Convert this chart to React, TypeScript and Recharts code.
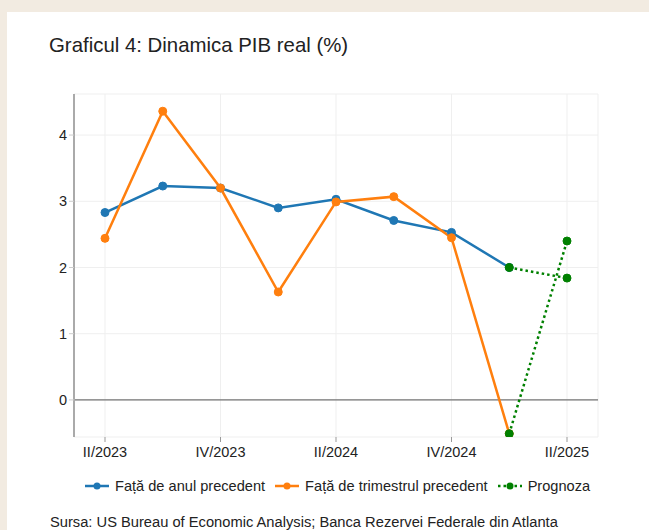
import React from 'react';
import { LineChart, Line, XAxis, YAxis, CartesianGrid, ReferenceLine } from 'recharts';

const quarters = ['II/2023', 'III/2023', 'IV/2023', 'I/2024', 'II/2024', 'III/2024', 'IV/2024', 'I/2025', 'II/2025'];
const yoy = [2.83, 3.23, 3.2, 2.9, 3.03, 2.71, 2.53, 2.0, null];
const qoq = [2.44, 4.36, 3.2, 1.63, 2.99, 3.07, 2.45, -0.51, null];
const forecastYoy = [null, null, null, null, null, null, null, 2.0, 1.84];
const forecastQoq = [null, null, null, null, null, null, null, -0.51, 2.4];
const xTicks = ['II/2023', 'IV/2023', 'II/2024', 'IV/2024', 'II/2025'];
const yTicks = [0, 1, 2, 3, 4];

const BLUE = '#1f77b4';
const ORANGE = '#ff7f0e';
const GREEN = '#008000';
const FONT = '"Liberation Sans", Arial, sans-serif';

const data = quarters.map((q, i) => ({
  q,
  yoy: yoy[i],
  qoq: qoq[i],
  fy: forecastYoy[i],
  fq: forecastQoq[i],
}));

const legendItems = [
  { label: 'Față de anul precedent', color: BLUE, dashed: false },
  { label: 'Față de trimestrul precedent', color: ORANGE, dashed: false },
  { label: 'Prognoza', color: GREEN, dashed: true },
];

const LegendIcon = ({ color, dashed }: { color: string; dashed: boolean }) => (
  <svg width={26} height={10} style={{ marginRight: 5 }}>
    <line x1={1} y1={5} x2={25} y2={5} stroke={color} strokeWidth={2.5} strokeDasharray={dashed ? '2.5 3' : undefined} />
    <circle cx={13} cy={5} r={3.5} fill={color} />
  </svg>
);

const App: React.FC = () => {
  return (
    <div style={{ position: 'absolute', left: 0, top: 0, width: 649, height: 530, background: '#f2ebe1', overflow: 'hidden', fontFamily: FONT }}>
      <div style={{ position: 'absolute', left: 7, top: 12, width: 642, height: 518, background: '#fff' }} />
      <div style={{ position: 'absolute', left: 49, top: 34, fontSize: 20.4, color: '#222' }}>
        Graficul 4: Dinamica PIB real (%)
      </div>
      <div style={{ position: 'absolute', left: 0, top: 0 }}>
        <LineChart width={649} height={530} data={data} margin={{ top: 94, right: 51, left: 44, bottom: 63 }}>
          <CartesianGrid stroke="#efefef" strokeWidth={1} />
          <XAxis
            dataKey="q"
            ticks={xTicks}
            padding={{ left: 31, right: 31 }}
            axisLine={false}
            tickLine={{ stroke: '#999' }}
            tickSize={5}
            tickMargin={5}
            height={30}
            tick={{ fontSize: 14.5, fill: '#222', fontFamily: FONT }}
          />
          <YAxis
            domain={[-0.56, 4.62]}
            ticks={yTicks}
            allowDataOverflow
            width={30}
            axisLine={{ stroke: '#aaa', strokeWidth: 2 }}
            tickLine={{ stroke: '#ccc' }}
            tickSize={5}
            tick={{ fontSize: 14.5, fill: '#222', fontFamily: FONT }}
          />
          <YAxis
            yAxisId="r"
            orientation="right"
            domain={[-0.56, 4.62]}
            ticks={yTicks}
            allowDataOverflow
            width={0}
            axisLine={{ stroke: '#aaa', strokeWidth: 2 }}
            tickLine={{ stroke: '#666' }}
            tickSize={5}
            tick={false}
          />
          <ReferenceLine y={0} stroke="#555" strokeWidth={1} />
          <Line dataKey="yoy" stroke={BLUE} strokeWidth={2.5} dot={{ r: 4, fill: BLUE, stroke: BLUE, strokeWidth: 1 }} isAnimationActive={false} />
          <Line dataKey="qoq" stroke={ORANGE} strokeWidth={2.5} dot={{ r: 4, fill: ORANGE, stroke: ORANGE, strokeWidth: 1 }} isAnimationActive={false} />
          <Line dataKey="fy" stroke={GREEN} strokeWidth={2.5} strokeDasharray="2.5 3" dot={{ r: 4, fill: GREEN, stroke: GREEN, strokeWidth: 1, strokeDasharray: '' }} isAnimationActive={false} />
          <Line dataKey="fq" stroke={GREEN} strokeWidth={2.5} strokeDasharray="2.5 3" dot={{ r: 4, fill: GREEN, stroke: GREEN, strokeWidth: 1, strokeDasharray: '' }} isAnimationActive={false} />
        </LineChart>
      </div>
      <div style={{ position: 'absolute', left: 84, top: 478, display: 'flex', alignItems: 'center', fontSize: 14.6, color: '#222' }}>
        {legendItems.map((item) => (
          <div key={item.label} style={{ display: 'flex', alignItems: 'center', marginRight: 9 }}>
            <LegendIcon color={item.color} dashed={item.dashed} />
            <span>{item.label}</span>
          </div>
        ))}
      </div>
      <div style={{ position: 'absolute', left: 50, top: 514, fontSize: 14.7, color: '#222', whiteSpace: 'nowrap' }}>
        Sursa: US Bureau of Economic Analysis; Banca Rezervei Federale din Atlanta
      </div>
    </div>
  );
};

export default App;
